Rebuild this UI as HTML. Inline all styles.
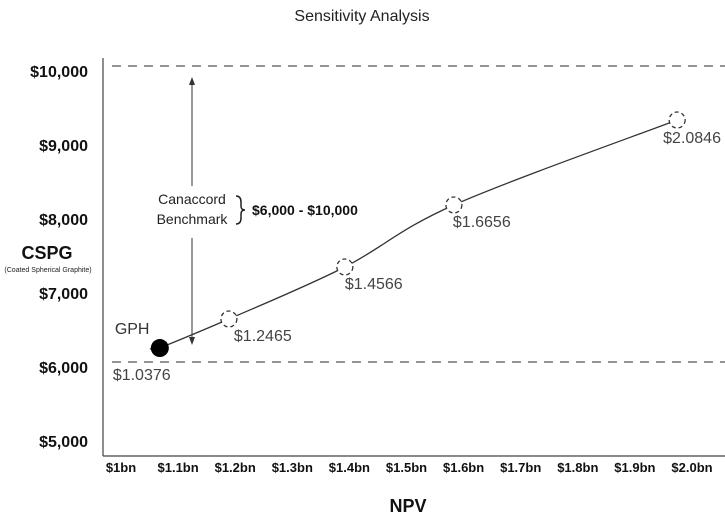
<!DOCTYPE html>
<html><head><meta charset="utf-8"><style>
body{margin:0;background:#fff;}
svg{display:block;font-family:"Liberation Sans",sans-serif;}
</style></head><body>
<svg id="chart" width="725" height="518" viewBox="0 0 725 518">
<text x="362" y="21" text-anchor="middle" font-size="16" fill="#222">Sensitivity Analysis</text>
<line x1="103" y1="58" x2="103" y2="456" stroke="#444" stroke-width="1.2"/>
<line x1="103" y1="456" x2="725" y2="456" stroke="#444" stroke-width="1.2"/>
<g id="yticks"></g><g id="xticks"></g><g id="bench"></g><g id="series"></g>
<text x="47" y="259" text-anchor="middle" font-size="18" font-weight="bold" fill="#111">CSPG</text>
<text x="48" y="272" text-anchor="middle" font-size="7" fill="#222">(Coated Spherical Graphite)</text>
<text x="408" y="512" text-anchor="middle" font-size="18" font-weight="bold" fill="#111">NPV</text>
<line x1="192" y1="82" x2="192" y2="186" stroke="#333"/>
<polygon points="192,77 189,85 195,85" fill="#333"/>
<line x1="192" y1="238" x2="192" y2="340" stroke="#333"/>
<polygon points="192,345 189,337 195,337" fill="#333"/>
<text x="192" y="204" text-anchor="middle" font-size="14" fill="#222">Canaccord</text>
<text x="192" y="224" text-anchor="middle" font-size="14" fill="#222">Benchmark</text>
<path d="M236,196 q5,0 5,6 v4 q0,4 4,4 q-4,0 -4,4 v4 q0,6 -5,6" fill="none" stroke="#222" stroke-width="1.5"/>
<text x="252" y="215" font-size="14" font-weight="bold" fill="#111">$6,000 - $10,000</text>
</svg>
<script>
const yTickValues=[5000,6000,7000,8000,9000,10000];
const yTickLabels=["$5,000","$6,000","$7,000","$8,000","$9,000","$10,000"];
const xTickValues=[1.0,1.1,1.2,1.3,1.4,1.5,1.6,1.7,1.8,1.9,2.0];
const xTickLabels=["$1bn","$1.1bn","$1.2bn","$1.3bn","$1.4bn","$1.5bn","$1.6bn","$1.7bn","$1.8bn","$1.9bn","$2.0bn"];
const benchmarkValues=[6000,10000];
const pointX=[1.068,1.189,1.392,1.583,1.974];
const pointY=[6189,6581,7284,8122,9270];
const pointLabels=["$1.0376","$1.2465","$1.4566","$1.6656","$2.0846"];
const NS="http://www.w3.org/2000/svg";
function xs(v){return 121+(v-1.0)*571;}
function ys(v){return 362-(v-6000)*0.074;}
function mk(tag,attrs,parent,txt){const e=document.createElementNS(NS,tag);for(const k in attrs)e.setAttribute(k,attrs[k]);if(txt!==undefined)e.textContent=txt;parent.appendChild(e);return e;}
const yt=document.getElementById('yticks');
yTickValues.forEach((v,i)=>{
 const t=mk('text',{x:88,y:ys(v)+11,'text-anchor':'end','font-size':16,'font-weight':'bold',fill:'#111'},yt,yTickLabels[i]);
 
 
});
const xt=document.getElementById('xticks');
xTickValues.forEach((v,i)=>{
 const t=mk('text',{x:xs(v),y:472,'text-anchor':'middle','font-size':13,'font-weight':'bold',fill:'#111'},xt,xTickLabels[i]);
 
 
});
const bg=document.getElementById('bench');
benchmarkValues.forEach(v=>{
 const l=mk('line',{x1:112,x2:725,y1:ys(v),y2:ys(v),stroke:'#555','stroke-width':1.2,'stroke-dasharray':'9,7'},bg);
 
 
});
const sg=document.getElementById('series');
const P=pointX.map((x,i)=>[xs(x),ys(pointY[i])]);
let d='M'+(P[0][0]-10)+','+(P[0][1]+1)+' L'+P[0][0]+','+P[0][1];
for(let i=0;i<P.length-1;i++){
 const p0=P[Math.max(0,i-1)],p1=P[i],p2=P[i+1],p3=P[Math.min(P.length-1,i+2)];
 const c1=[p1[0]+(p2[0]-p0[0])/6,p1[1]+(p2[1]-p0[1])/6];
 const c2=[p2[0]-(p3[0]-p1[0])/6,p2[1]-(p3[1]-p1[1])/6];
 d+=' C'+c1+' '+c2+' '+p2;
}
const path=mk('path',{d:d,fill:'none',stroke:'#333','stroke-width':1.3},sg);


const offs=[[-47,32],[5,22],[0,22],[-1,22],[-14,23]];
P.forEach((p,i)=>{
 let c;
 if(i===0){c=mk('circle',{cx:p[0],cy:p[1],r:9,fill:'#000'},sg);
  }
 else{c=mk('circle',{cx:p[0],cy:p[1],r:8,fill:'#fff',stroke:'#333','stroke-width':1.3,'stroke-dasharray':'4,3'},sg);
  }
 
 const t=mk('text',{x:p[0]+offs[i][0],y:p[1]+offs[i][1],'font-size':16,fill:'#444'},sg,pointLabels[i]);
 
 
});
const g=mk('text',{x:P[0][0]-45,y:P[0][1]-14,'font-size':16,fill:'#333'},sg,'GPH');


</script>
</body></html>
